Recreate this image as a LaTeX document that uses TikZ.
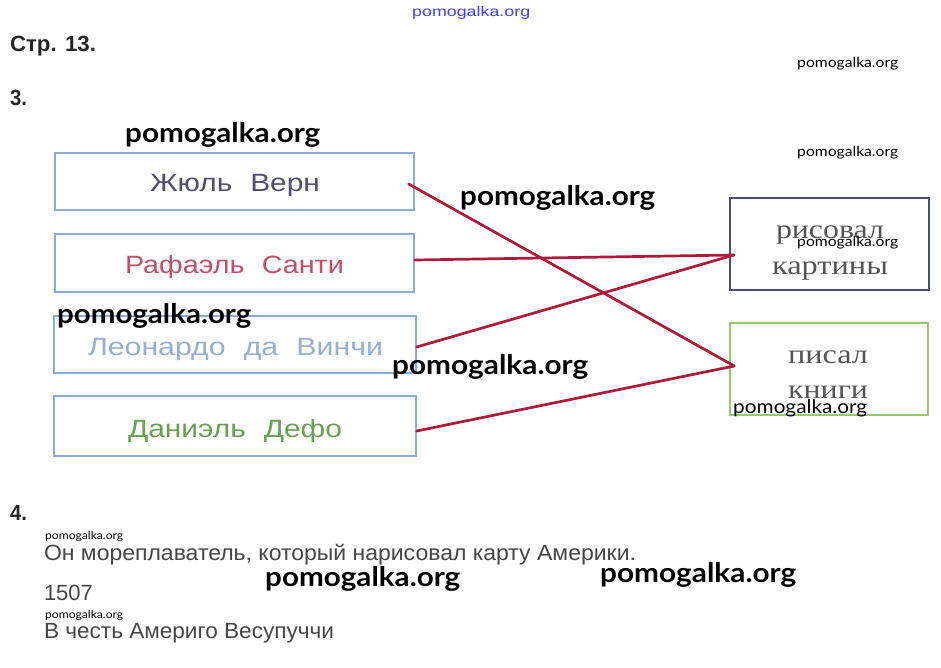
\documentclass[tikz,border=0pt]{standalone}
\usepackage{fontspec}
\usepackage{graphicx}
\setmainfont{Liberation Sans}
\newfontfamily\serifcyr{Liberation Serif}
\newfontfamily\wmfont{Lato}
\usetikzlibrary{calc}
\newsavebox\fitbox
\newcommand\fitx[2]{\sbox\fitbox{#2}\pgfmathsetmacro\fitsc{#1/\the\wd\fitbox}\scalebox{\fitsc}[1]{\usebox\fitbox}}
\definecolor{lboxc}{RGB}{140,172,215}
\definecolor{navyc}{RGB}{75,75,120}
\definecolor{greenc}{RGB}{150,200,115}
\definecolor{connc}{RGB}{172,28,58}
\definecolor{txtgrey}{RGB}{70,70,70}
\definecolor{jvc}{RGB}{80,78,110}
\definecolor{rsc}{RGB}{195,80,105}
\definecolor{ldc}{RGB}{150,175,210}
\definecolor{ddc}{RGB}{105,160,85}
\definecolor{serifc}{RGB}{85,85,85}
\tikzset{
  lbox/.style={draw=lboxc,line width=1.4pt,inner sep=0pt},
  rbox/.style={line width=1.8pt,inner sep=0pt},
  conn/.style={draw=connc,line width=2.7pt,line cap=round},
  basetxt/.style={anchor=base west,inner sep=0pt,outer sep=0pt},
  ctxt/.style={anchor=base,inner sep=0pt,outer sep=0pt},
  headtxt/.style={basetxt,font=\bfseries\fontsize{22}{22}\selectfont,text=black!85},
  wmbig/.style={anchor=base west,inner sep=0pt,font=\wmfont\bfseries\fontsize{27}{27}\selectfont},
  wmsmall/.style={anchor=base west,inner sep=0pt,font=\wmfont\fontsize{14}{14}\selectfont},
}
\begin{document}
\begin{tikzpicture}[x=1pt,y=-1pt]
\useasboundingbox[fill=white] (0,0) rectangle (941,668);
% headings
\node[headtxt] (hdr) at (10,52) {\fitx{86}{Стр. 13.}};
\node[headtxt] (n3) at (10,106) {\fitx{17}{3.}};
\node[headtxt] (n4) at (10,520) {\fitx{17}{4.}};
% left boxes
\node[lbox,minimum width=359pt,minimum height=57pt] (jv) at (234.5,181.5) {};
\node[lbox,minimum width=359pt,minimum height=58pt] (rs) at (234.5,263) {};
\node[lbox,minimum width=362pt,minimum height=57pt] (ld) at (235,344.5) {};
\node[lbox,minimum width=362pt,minimum height=60pt] (dd) at (235,426) {};
\node[basetxt,text=jvc,font=\fontsize{25}{25}\selectfont] (jvt) at (150,192) {\fitx{170}{Жюль\hspace{0.6em}Верн}};
\node[basetxt,text=rsc,font=\fontsize{25}{25}\selectfont] (rst) at (125,273) {\fitx{219}{Рафаэль\hspace{0.6em}Санти}};
\node[basetxt,text=ldc,font=\fontsize{25}{25}\selectfont] (ldt) at (88,355) {\fitx{295}{Леонардо\hspace{0.6em}да\hspace{0.6em}Винчи}};
\node[basetxt,text=ddc,font=\fontsize{25}{25}\selectfont] (ddt) at (128,437) {\fitx{214}{Даниэль\hspace{0.6em}Дефо}};
% right boxes
\node[rbox,draw=navyc,minimum width=199pt,minimum height=92pt] (rk) at (829.5,244) {};
\node[rbox,draw=greenc,line width=1.5pt,minimum width=198pt,minimum height=92pt] (pk) at (829,369) {};
\node[ctxt,text=serifc,font=\serifcyr\fontsize{27}{27}\selectfont] (rkt1) at (830,238) {\fitx{108}{рисовал}};
\node[ctxt,text=serifc,font=\serifcyr\fontsize{27}{27}\selectfont] (rkt2) at (830,274) {\fitx{116}{картины}};
\node[ctxt,text=serifc,font=\serifcyr\fontsize{27}{27}\selectfont] (pkt1) at (828,363) {\fitx{80}{писал}};
\node[ctxt,text=serifc,font=\serifcyr\fontsize{27}{27}\selectfont] (pkt2) at (828,398) {\fitx{80}{книги}};
% connectors
\draw[conn] ($(jv.east)+(-6,2.5)$) -- ($(pk.west)+(5,-3)$);
\draw[conn] ($(rs.east)+(0,-3)$) -- ($(rk.west)+(5,11)$);
\draw[conn] ($(ld.east)+(0,2.5)$) -- ($(rk.west)+(5,11)$);
\draw[conn] ($(dd.east)+(0,5)$) -- ($(pk.west)+(5,-3)$);
% task 4 text
\node[basetxt,text=txtgrey,font=\fontsize{22}{22}\selectfont] (a1) at (44,560) {\fitx{592}{Он мореплаватель, который нарисовал карту Америки.}};
\node[basetxt,text=txtgrey,font=\fontsize{22}{22}\selectfont] (a2) at (44,600) {\fitx{49}{1507}};
\node[basetxt,text=txtgrey,font=\fontsize{22}{22}\selectfont] (a3) at (44,638) {\fitx{290}{В честь Америго Весупуччи}};
% watermarks
\node[anchor=base west,inner sep=0pt,text=blue!75,font=\fontsize{14}{14}\selectfont] (w0) at (412,17) {\fitx{118}{pomogalka.org}};
\node[wmsmall] (w1) at (797,68) {\fitx{101}{pomogalka.org}};
\node[wmsmall] (w2) at (797,157) {\fitx{101}{pomogalka.org}};
\node[wmsmall] (w3) at (797,247) {\fitx{101}{pomogalka.org}};
\node[anchor=base west,inner sep=0pt,font=\wmfont\fontsize{19}{19}\selectfont] (w4) at (733,413) {\fitx{134}{pomogalka.org}};
\node[wmbig] (w5) at (125,143) {\fitx{195}{pomogalka.org}};
\node[wmbig] (w6) at (460,206) {\fitx{195}{pomogalka.org}};
\node[wmbig] (w7) at (57,323) {\fitx{194}{pomogalka.org}};
\node[wmbig] (w8) at (392,374) {\fitx{196}{pomogalka.org}};
\node[wmbig] (w9) at (265,586) {\fitx{195}{pomogalka.org}};
\node[wmbig] (w10) at (600,582) {\fitx{196}{pomogalka.org}};
\node[anchor=base west,inner sep=0pt,font=\wmfont\fontsize{11}{11}\selectfont] (w11) at (45,539) {\fitx{78}{pomogalka.org}};
\node[anchor=base west,inner sep=0pt,font=\wmfont\fontsize{11}{11}\selectfont] (w12) at (45,618) {\fitx{78}{pomogalka.org}};
\end{tikzpicture}
\end{document}
